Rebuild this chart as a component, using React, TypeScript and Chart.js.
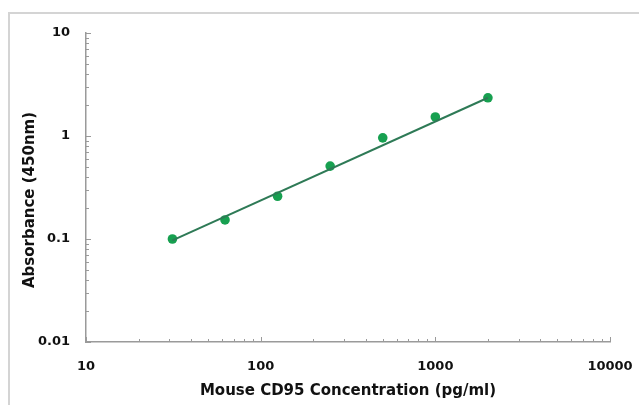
import React, { useEffect, useRef } from "react";
import { Chart, registerables } from "chart.js";

Chart.register(...registerables);

const concentrations = [31.25, 62.5, 125, 250, 500, 1000, 2000];
const absorbances = [0.1, 0.153, 0.26, 0.51, 0.96, 1.53, 2.35];
const fitX = [31.25, 2000];
const fitY = [0.097, 2.35];
const xTickValues = [10, 100, 1000, 10000];
const yTickValues = [0.01, 0.1, 1, 10];
const xTitle = "Mouse CD95 Concentration (pg/ml)";
const yTitle = "Absorbance (450nm)";

const FONT = "'DejaVu Sans', 'Liberation Sans', Arial, sans-serif";

const minorTicks = {
  id: "minorTicks",
  afterDraw(chart: any) {
    const { ctx, chartArea, scales } = chart;
    const xs = scales.x;
    const ys = scales.y;
    ctx.save();
    ctx.strokeStyle = "#9a9a9a";
    ctx.lineWidth = 1;
    for (let d = 10; d < 10000; d *= 10) {
      for (let k = 1; k <= 10; k++) {
        const px = Math.round(xs.getPixelForValue(d * k)) + 0.5;
        const len = k === 1 || k === 10 ? 5 : 3;
        ctx.beginPath();
        ctx.moveTo(px, chartArea.bottom);
        ctx.lineTo(px, chartArea.bottom - len);
        ctx.stroke();
      }
    }
    for (let d = 0.01; d < 10; d *= 10) {
      for (let k = 1; k <= 10; k++) {
        const py = Math.round(ys.getPixelForValue(d * k)) + 0.5;
        const len = k === 1 || k === 10 ? 5 : 3;
        ctx.beginPath();
        ctx.moveTo(chartArea.left, py);
        ctx.lineTo(chartArea.left + len, py);
        ctx.stroke();
      }
    }
    // y-axis title
    ctx.fillStyle = "#111";
    ctx.font = `bold 15px ${FONT}`;
    ctx.textAlign = "center";
    ctx.textBaseline = "middle";
    ctx.translate(30, 200);
    ctx.rotate(-Math.PI / 2);
    ctx.fillText(yTitle, 0, 0);
    ctx.restore();
  },
};

export default function App() {
  const canvasRef = useRef<HTMLCanvasElement | null>(null);

  useEffect(() => {
    if (!canvasRef.current) return;
    const chart = new Chart(canvasRef.current, {
      type: "scatter",
      data: {
        datasets: [
          {
            type: "line",
            label: "fit",
            data: fitX.map((x, i) => ({ x, y: fitY[i] })),
            borderColor: "#2e7a56",
            borderWidth: 2,
            pointRadius: 0,
            showLine: true,
            fill: false,
          } as any,
          {
            label: "points",
            data: concentrations.map((x, i) => ({ x, y: absorbances[i] })),
            backgroundColor: "#17a050",
            borderColor: "#17a050",
            pointRadius: 4.8,
            borderWidth: 0,
          },
        ],
      },
      options: {
        animation: false,
        responsive: false,
        maintainAspectRatio: false,
        layout: { padding: { left: 0, top: 33, right: 29, bottom: 0 } },
        plugins: {
          legend: { display: false },
          tooltip: { enabled: false },
        },
        scales: {
          x: {
            type: "logarithmic",
            min: 10,
            max: 10000,
            afterBuildTicks: (s: any) => {
              s.ticks = xTickValues.map((v) => ({ value: v }));
            },
            afterFit: (s: any) => {
              s.height = 63;
              s.paddingRight = 0;
              s.paddingLeft = 0;
            },
            ticks: {
              autoSkip: false,
              maxRotation: 0,
              padding: 17,
              color: "#111",
              font: { family: FONT, size: 13, weight: "bold" },
              callback: (v: any) => String(v),
            },
            grid: { display: false, drawTicks: false },
            border: { display: true, color: "#9a9a9a", width: 1.5 },
            title: {
              display: true,
              text: xTitle,
              color: "#111",
              font: { family: FONT, size: 15, weight: "bold" },
              padding: { top: 0, bottom: 5 },
            },
          },
          y: {
            type: "logarithmic",
            min: 0.01,
            max: 10,
            afterBuildTicks: (s: any) => {
              s.ticks = yTickValues.map((v) => ({ value: v }));
            },
            afterFit: (s: any) => {
              s.width = 86;
              s.paddingTop = 0;
              s.paddingBottom = 0;
            },
            ticks: {
              autoSkip: false,
              padding: 16,
              color: "#111",
              font: { family: FONT, size: 13, weight: "bold" },
              callback: (v: any) => String(v),
            },
            grid: { display: false, drawTicks: false },
            border: { display: true, color: "#9a9a9a", width: 1.5 },
            title: { display: false },
          },
        },
      } as any,
      plugins: [minorTicks],
    });
    return () => chart.destroy();
  }, []);

  return (
    <div style={{ position: "fixed", left: 0, top: 0, width: 639, height: 405, background: "#fff", overflow: "hidden" }}>
      <div
        style={{
          position: "absolute",
          left: 8,
          top: 12,
          width: 629,
          height: 400,
          border: "2px solid #d4d4d4",
        }}
      />
      <canvas ref={canvasRef} width={639} height={405} style={{ position: "absolute", left: 0, top: 0, width: 639, height: 405 }} />
    </div>
  );
}
